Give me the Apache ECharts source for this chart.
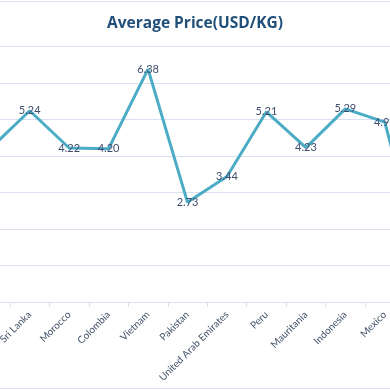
<!DOCTYPE html>
<html><head><meta charset="utf-8">
<script src="https://cdn.jsdelivr.net/npm/echarts@6/dist/echarts.min.js"></script>
<style>html,body{margin:0;padding:0;background:#fff;overflow:hidden;width:390px;height:390px}
#c{position:absolute;left:-54px;top:0;width:498px;height:390px}</style>
</head><body><div id="c"></div>
<script>
// categories (first and last are partially cropped off the visible area)
const categories = ["", "Sri Lanka", "Morocco", "Colombia", "Vietnam", "Pakistan", "United Arab Emirates", "Peru", "Mauritania", "Indonesia", "Mexico", ""];
const prices = [4.20, 5.24, 4.22, 4.20, 6.38, 2.73, 3.44, 5.21, 4.23, 5.29, 4.93, 0.8];
const hiddenLabel = [true, false, false, false, false, false, false, false, false, false, false, true];
const yTicks = {min: 0, max: 7, interval: 1};

const chart = echarts.init(document.getElementById('c'), null, {renderer: 'canvas'});
const font = 'Lato, "Open Sans", sans-serif';
chart.setOption({
  animation: false,
  backgroundColor: '#ffffff',
  title: {
    text: 'Average Price(USD/KG)', left: 'center', top: 11,
    textStyle: {color: '#1F4E79', fontSize: 15.5, fontWeight: 'bold', fontFamily: '"Open Sans", sans-serif'}
  },
  graphic: [
    {type: 'line', shape: {x1: 0, y1: 1.5, x2: 498, y2: 1.5}, style: {stroke: '#D9E1F0', lineWidth: 1}},
    {type: 'line', shape: {x1: 0, y1: 388.5, x2: 498, y2: 388.5}, style: {stroke: '#D9E1F0', lineWidth: 1}}
  ],
  grid: {left: 24.5, right: 0, top: 46.5, bottom: 88},
  xAxis: {
    type: 'category', data: categories, boundaryGap: true,
    axisLine: {lineStyle: {color: '#D9E1F0', width: 1}},
    axisTick: {show: true, length: 5, lineStyle: {color: '#D9E1F0'}},
    axisLabel: {rotate: 45, interval: 0, margin: 11, color: '#44546A', fontSize: 10, fontFamily: font}
  },
  yAxis: {
    type: 'value', min: yTicks.min, max: yTicks.max, interval: yTicks.interval,
    axisLabel: {show: false}, axisLine: {show: false}, axisTick: {show: false},
    splitLine: {lineStyle: {color: '#D9E1F0', width: 1}}
  },
  series: [{
    type: 'line',
    data: prices.map((v, i) => ({value: v, label: {show: !hiddenLabel[i]}})),
    symbol: 'circle', symbolSize: 0, showSymbol: true,
    lineStyle: {color: '#4BACC6', width: 3},
    itemStyle: {color: '#4BACC6'},
    label: {show: true, position: 'inside', formatter: p => p.value.toFixed(2),
      color: '#404E6E', fontSize: 11, fontFamily: font}
  }]
});
</script></body></html>
